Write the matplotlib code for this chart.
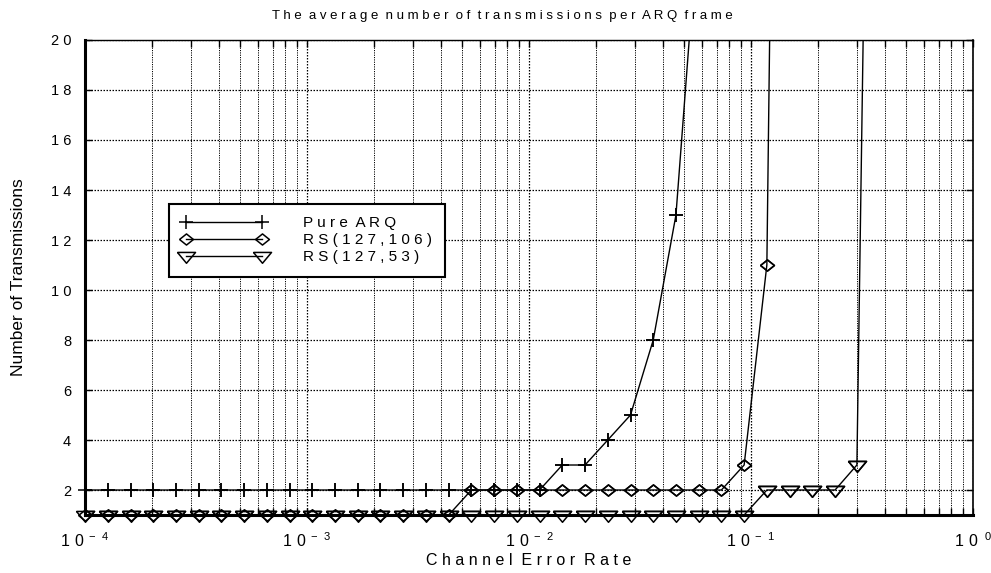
import numpy as np
import matplotlib
matplotlib.use('Agg')
from matplotlib import pyplot as plt
from matplotlib.ticker import FixedLocator, FuncFormatter, LogLocator, NullFormatter

plt.rcParams['font.family'] = ['Liberation Sans', 'DejaVu Sans']
plt.rcParams['mathtext.default'] = 'regular'

# channel error rates at which each scheme was evaluated
error_rate = [1.0e-4, 1.266e-4, 1.603e-4, 2.03e-4, 2.57e-4, 3.25e-4, 4.11e-4,
              5.21e-4, 6.59e-4, 8.34e-4, 1.056e-3, 1.337e-3, 1.692e-3, 2.142e-3,
              2.712e-3, 3.433e-3, 4.346e-3, 5.501e-3, 6.964e-3, 8.815e-3,
              1.116e-2, 1.413e-2, 1.788e-2, 2.264e-2, 2.866e-2, 3.628e-2,
              4.592e-2, 5.813e-2, 7.359e-2, 9.315e-2, 0.1179, 0.1493, 0.1890,
              0.2392, 0.3000, 0.3798]

pure_arq = [2] * 21 + [3, 3, 4, 5, 8, 13, 25]
rs_127_106 = [1] * 17 + [2] * 12 + [3, 11, 85]
rs_127_53 = [1] * 30 + [2, 2, 2, 2, 3, 65]

y_ticks = [2, 4, 6, 8, 10, 12, 14, 16, 18, 20]
y_max = 20


def spaced(s):
    # wide letter spacing, doubled between words
    return '  '.join(' '.join(w) for w in s.split(' '))


def decade_label(v, pos):
    e = int(round(np.log10(v)))
    exp = r'\ -\ %d' % -e if e < 0 else r'\ \ %d' % e
    return r'$\mathregular{1\ 0^{%s}}$' % exp


diamond = [(-1, 0), (0, 0.8), (1, 0), (0, -0.8), (-1, 0)]
tri_down = [(-1, 0.45), (1, 0.45), (0, -0.75), (-1, 0.45)]

fig = plt.figure(figsize=(9.91, 5.73), dpi=100)
ax = fig.add_axes([0.0858, 0.1012, 0.8960, 0.8290])

style = dict(color='black', lw=1.0, mfc='none', mec='black', mew=1.1)
series = [(pure_arq, '+', 10, 'Pure ARQ'),
          (rs_127_106, diamond, 10, 'RS(127,106)'),
          (rs_127_53, tri_down, 13, 'RS(127,53)')]
for ys, mk, ms, name in series:
    xs = np.array(error_rate[:len(ys)])
    ys = np.array(ys)
    ax.plot(xs, ys, marker=mk, ms=ms, label=spaced(name), **style)
    # markers on the bottom edge are allowed to spill past the frame
    inside = ys <= y_max
    ax.plot(xs[inside], ys[inside], ls='none', marker=mk, ms=ms,
            mfc='none', mec='black', mew=1.1, clip_on=False)

ax.set_xscale('log')
ax.set_xlim(1e-4, 1)
ax.set_ylim(1, y_max)
ax.yaxis.set_major_locator(FixedLocator(y_ticks))
ax.yaxis.set_major_formatter(FuncFormatter(lambda v, p: ' '.join(str(int(v)))))
ax.xaxis.set_major_locator(LogLocator(base=10, numticks=10))
ax.xaxis.set_minor_locator(LogLocator(base=10, subs=np.arange(2, 10), numticks=20))
ax.xaxis.set_major_formatter(FuncFormatter(decade_label))
ax.xaxis.set_minor_formatter(NullFormatter())

ax.grid(which='major', axis='both', color='black', ls=(0, (1.2, 1.2)), lw=0.9)
ax.grid(which='minor', axis='x', color='black', ls=(0, (1.2, 1.2)), lw=0.7)
ax.tick_params(which='both', direction='in', top=True, right=True,
               length=5, width=1, labelsize=10)
ax.tick_params(axis='y', pad=10, labelsize=10.5)
ax.tick_params(axis='x', pad=12, labelsize=11.5)

for side, w in [('left', 2.2), ('bottom', 2.2), ('top', 1.0), ('right', 1.2)]:
    ax.spines[side].set_linewidth(w)

ax.set_title(spaced('The average number of transmissions per ARQ frame'),
             fontsize=9.5, pad=15, x=0.47)
ax.set_xlabel(spaced('Channel Error Rate'), fontsize=11.5, labelpad=2)
ax.set_ylabel('Number of Transmissions', fontsize=12.5, labelpad=18)

leg = ax.legend(loc='upper left', bbox_to_anchor=(0.0946, 0.6547),
                borderaxespad=0, numpoints=2, handlelength=5.6,
                handletextpad=2.4, labelspacing=0.2, fontsize=11,
                fancybox=False, framealpha=1, edgecolor='black',
                borderpad=0.8)
leg.get_frame().set_linewidth(1.5)

plt.savefig('out.png', dpi=100)
